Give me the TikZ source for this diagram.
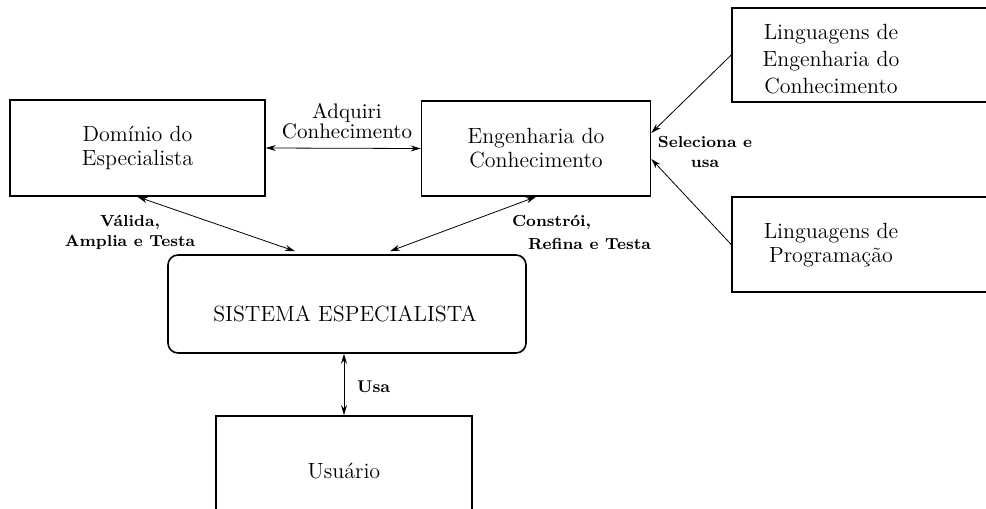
\documentclass[tikz,border=0pt]{standalone}
\usepackage{tikz}
\usetikzlibrary{arrows.meta}
\tikzset{
  caixa/.style={draw, line width=0.8pt, inner sep=0pt},
  txtcaixa/.style={font=\fontsize{11}{12}\selectfont, align=center},
  rotulo/.style={font=\bfseries\fontsize{8}{10}\selectfont, align=center},
  seta/.style={line width=0.4pt, >={Stealth[length=5pt,width=3pt]}}
}

\begin{document}
\begin{tikzpicture}[x=0.5pt, y=-0.5pt]
\useasboundingbox (0,0) rectangle (986,509) ;
% box Dominio
\node[caixa, txtcaixa, minimum width=127.5pt, minimum height=48pt] (dominio) at (137.5,148) {Dom\'inio do\\Especialista} ;
% box Engenharia
\node[caixa, txtcaixa, minimum width=114.5pt, minimum height=47.5pt] (engenharia) at (536,148.5) {Engenharia do\\Conhecimento} ;
% box Linguagens (cut at the right edge)
\node[caixa, minimum width=134pt, minimum height=47pt] (lingEngBox) at (866,55) {} ;
\node[txtcaixa, font=\fontsize{11}{13.5}\selectfont] (lingEng) at (831,59) {Linguagens de\\Engenharia do\\Conhecimento} ;
\node[caixa, minimum width=134pt, minimum height=47.5pt] (lingProgBox) at (866,244.5) {} ;
\node[txtcaixa] (lingProg) at (831,245) {Linguagens de\\Programa\c{c}\~ao} ;
% box Sistema
\node[caixa, rounded corners=5pt, minimum width=179pt, minimum height=49pt] (sistema) at (347,304) {} ;
\node[txtcaixa] (sistemaTxt) at (345,314) {SISTEMA ESPECIALISTA} ;
% box Usuario
\node[caixa, txtcaixa, minimum width=128pt, minimum height=55pt] (usuario) at (344,471) {Usu\'ario} ;
%% arrows
\draw[seta, <->] (dominio.east) -- (engenharia.west) ;
\draw[seta, <->] (dominio.south) -- ([xshift=-26pt, yshift=1.5pt]sistema.north) ;
\draw[seta, <->] (engenharia.south) -- ([xshift=21.5pt, yshift=1.5pt]sistema.north) ;
\draw[seta, ->] (lingEngBox.west) -- ([yshift=7.75pt]engenharia.east) ;
\draw[seta, ->] (lingProgBox.west) -- ([yshift=-5.25pt]engenharia.east) ;
\draw[seta, <->] (usuario.north |- sistema.south) -- (usuario.north) ;
%% labels
\node[font=\fontsize{10.5}{10}\selectfont, align=center] (adquiri) at (347,121) {Adquiri\\Conhecimento} ;
\node[rotulo] (valida) at (130,232) {V\'alida,\\Amplia e Testa} ;
\node[rotulo, align=left, anchor=west, font=\bfseries\fontsize{8}{11.5}\selectfont] (constroi) at (505,232) {Constr\'oi,\\\hspace*{8pt}Refina e Testa} ;
\node[rotulo] (seleciona) at (705,152) {Seleciona e\\usa} ;
\node[rotulo, anchor=west, font=\bfseries\fontsize{8.5}{10}\selectfont] (usa) at (350,387) {Usa} ;
\end{tikzpicture}
\end{document}
